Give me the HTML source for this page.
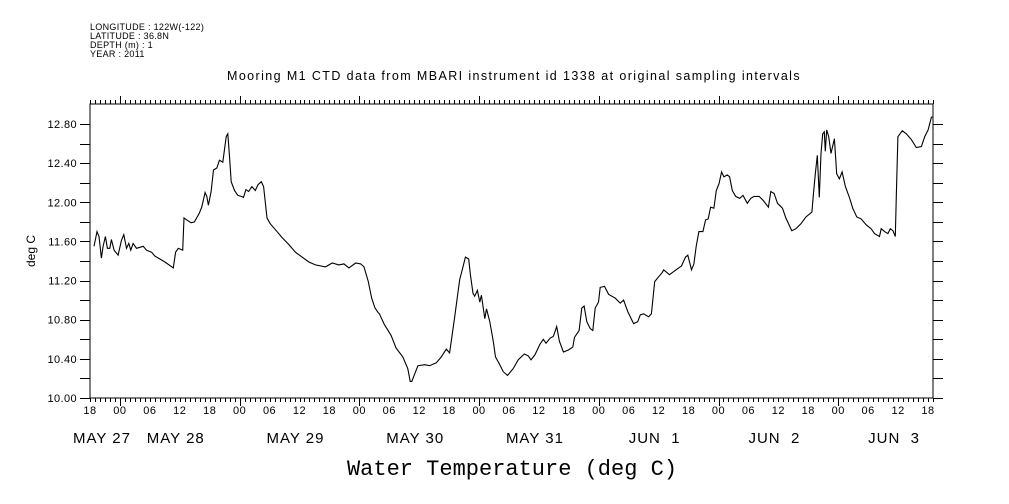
<!DOCTYPE html>
<html><head><meta charset="utf-8"><style>
html,body{margin:0;padding:0;background:#fff;}
svg{display:block;font-family:"Liberation Sans",sans-serif;}
</style></head><body>
<svg id="chart" width="1009" height="504" xmlns="http://www.w3.org/2000/svg">
<g font-size="9" fill="#000" letter-spacing="0.3">
<text x="90" y="30">LONGITUDE : 122W(-122)</text>
<text x="90" y="39">LATITUDE : 36.8N</text>
<text x="90" y="48">DEPTH (m) : 1</text>
<text x="90" y="57">YEAR : 2011</text>
</g>
<text x="514" y="80" text-anchor="middle" font-size="12.5" letter-spacing="1.4">Mooring M1 CTD data from MBARI instrument id 1338 at original sampling intervals</text>
<text x="512" y="475" text-anchor="middle" font-size="22" font-family="'Liberation Mono',monospace">Water Temperature (deg C)</text>
<text transform="translate(35,251) rotate(-90)" text-anchor="middle" font-size="12">deg C</text>
<g id="axes"></g>
<g id="series"></g>
</svg>
<script>
const hoursSinceStart=[0.80,1.41,1.81,2.28,2.62,3.09,3.49,3.96,4.29,4.83,5.63,6.30,6.77,7.31,7.78,8.18,8.65,9.32,10.66,11.33,12.34,13.01,15.02,16.70,17.17,17.71,18.58,18.85,19.38,20.26,20.93,21.93,22.40,23.07,23.41,23.74,24.28,24.75,25.42,25.96,26.63,27.30,27.63,27.97,28.30,28.97,29.65,30.32,30.78,31.25,31.79,32.46,33.13,33.67,34.34,34.81,35.48,36.15,37.16,38.50,39.84,41.18,42.52,43.86,45.20,47.22,48.56,49.90,50.91,51.91,53.26,54.26,54.93,55.80,56.47,57.14,57.81,
58.02,59.02,60.36,61.37,62.71,63.72,64.19,64.52,65.73,67.07,68.07,69.42,70.42,71.43,72.10,73.11,74.11,74.78,75.25,75.92,76.26,76.79,77.13,77.67,78.14,78.47,79.14,79.48,80.15,80.82,81.29,82.16,82.83,83.70,84.84,85.85,87.06,87.86,88.40,89.20,90.21,90.88,91.42,92.22,92.89,93.56,94.10,94.90,95.91,96.78,97.12,98.06,98.59,99.06,99.60,100.27,100.80,101.27,101.95,102.28,103.15,103.96,105.30,106.30,106.97,107.84,108.98,109.79,110.32,110.99,112.00,112.54,113.21,114.01,114.69,
115.02,116.16,117.50,118.58,119.38,119.85,120.59,121.06,121.53,122.07,122.87,123.41,123.94,124.41,125.08,125.55,126.09,126.62,127.09,127.76,128.23,128.77,129.44,130.24,130.91,131.78,132.45,133.12,134.13,134.94,136.01,136.48,137.15,137.82,138.83,139.50,140.70,141.51,142.51,143.52,144.73,145.00,145.40,145.80,146.21,146.54,146.88,147.21,147.41,147.68,148.09,148.56,149.23,149.70,150.23,150.77,151.44,152.24,152.91,153.72,154.59,155.60,156.60,157.27,158.28,158.62,159.29,159.96,160.43,160.97,161.44,161.64,161.97,162.84,163.65,164.66,165.66,166.67,167.34,168.01,168.68,168.88];
const waterTemp=[11.55,11.70,11.65,11.43,11.55,11.65,11.53,11.53,11.62,11.51,11.46,11.61,11.67,11.53,11.58,11.51,11.58,11.53,11.55,11.51,11.49,11.45,11.39,11.33,11.49,11.53,11.51,11.84,11.82,11.79,11.80,11.89,11.95,12.10,12.06,11.97,12.11,12.33,12.35,12.43,12.41,12.67,12.70,12.47,12.21,12.12,12.07,12.06,12.05,12.13,12.11,12.16,12.12,12.18,12.21,12.16,11.84,11.78,11.72,11.64,11.57,11.49,11.44,11.39,11.36,11.34,11.38,11.36,11.37,11.33,11.38,11.37,11.34,11.19,11.02,10.92,10.87,
10.86,10.75,10.64,10.51,10.42,10.30,10.17,10.17,10.33,10.34,10.33,10.36,10.42,10.50,10.46,10.83,11.21,11.34,11.44,11.42,11.26,11.07,11.04,11.10,10.98,11.05,10.81,10.91,10.78,10.59,10.42,10.34,10.27,10.23,10.30,10.39,10.45,10.43,10.39,10.44,10.55,10.60,10.56,10.61,10.63,10.73,10.58,10.47,10.49,10.52,10.62,10.69,10.92,10.94,10.78,10.71,10.69,10.92,10.98,11.13,11.14,11.06,11.02,10.97,11.00,10.88,10.76,10.78,10.85,10.86,10.83,10.86,11.19,11.24,11.28,
11.31,11.26,11.31,11.35,11.44,11.46,11.31,11.37,11.55,11.70,11.70,11.82,11.83,11.95,11.94,12.12,12.19,12.31,12.26,12.28,12.26,12.12,12.06,12.04,12.07,11.99,12.04,12.06,12.06,12.02,11.95,12.11,12.09,11.99,11.94,11.84,11.71,11.73,11.78,11.85,11.90,12.07,12.29,12.48,12.05,12.50,12.70,12.72,12.52,12.74,12.67,12.50,12.65,12.29,12.24,12.31,12.16,12.05,11.94,11.85,11.83,11.77,11.73,11.68,11.65,11.73,11.70,11.68,11.73,11.71,11.65,12.06,12.67,12.73,12.70,12.64,12.56,12.57,12.67,12.74,12.87,12.87];
const yTickLabels=["10.00","10.40","10.80","11.20","11.60","12.00","12.40","12.80"];
const xHourLabels=["18","00","06","12"];
const dateLabels=["MAY 27","MAY 28","MAY 29","MAY 30","MAY 31","JUN  1","JUN  2","JUN  3"];

const NS="http://www.w3.org/2000/svg";
const X0=90,X1=933,Y0=398,Y1=104,HMAX=169,TMIN=10;
const Y128=124;
function xs(h){return X0+h*(X1-X0)/HMAX;}
function ys(t){return Y0-(t-TMIN)*(Y0-Y128)/2.8;}
const axes=document.getElementById('axes');
function mk(tag,attrs,parent){const e=document.createElementNS(NS,tag);for(const k in attrs)e.setAttribute(k,attrs[k]);(parent||axes).appendChild(e);return e;}

const frame=mk('rect',{x:X0,y:Y1,width:X1-X0,height:Y0-Y1,fill:'none',stroke:'#000','stroke-width':1});



let d='';
for(let h=0;h<=HMAX;h++){
  const x=Math.round(xs(h))+0.5;
  const major=((h+18)%24===0);
  const len=major?8:4;
  d+=`M${x} ${Y0}V${Y0+len}M${x} ${Y1}V${Y1-len}`;
}
const xt=mk('path',{d:d,stroke:'#000','stroke-width':1,fill:'none'});


for(let i=0;i*6<=168;i++){
  const t=mk('text',{x:xs(i*6),y:414,'text-anchor':'middle','font-size':11,'letter-spacing':0.5});
  t.textContent=xHourLabels[i%4];
  
  
}
dateLabels.forEach((lab,i)=>{
  const cx=i===0?xs(0)+12:xs(6+(i-1)*24+12)-4;
  const t=mk('text',{x:cx,y:443,'text-anchor':'middle','font-size':15,'letter-spacing':1});
  t.setAttribute('style','white-space:pre');
  t.textContent=lab;
  
  
});
let dy='';
for(let k=0;k<=14;k++){
  const y=Math.round(ys(10+k*0.2))+0.5;
  dy+=`M${X0-10} ${y}H${X0}M${X1} ${y}H${X1+10}`;
}
const yt=mk('path',{d:dy,stroke:'#000','stroke-width':1});


yTickLabels.forEach((lab)=>{
  const t=mk('text',{x:77,y:ys(parseFloat(lab))+4,'text-anchor':'end','font-size':11,'letter-spacing':0.4});
  t.textContent=lab;
  
  
});
const pts=hoursSinceStart.map((h,i)=>xs(h).toFixed(1)+','+ys(waterTemp[i]).toFixed(1)).join(' ');
const line=mk('polyline',{points:pts,fill:'none',stroke:'#000','stroke-width':1.1},document.getElementById('series'));


</script>
</body></html>
